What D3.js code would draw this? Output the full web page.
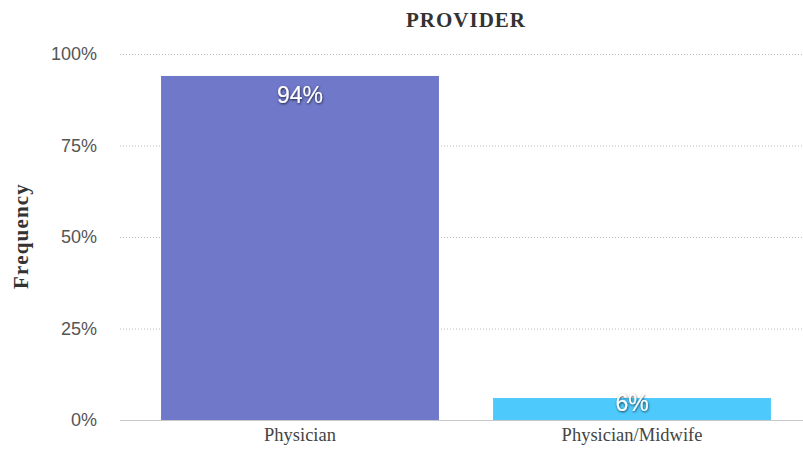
<!DOCTYPE html>
<html>
<head>
<meta charset="utf-8">
<script src="https://cdn.jsdelivr.net/npm/d3@7/dist/d3.min.js"></script>
<style>
  html, body { margin: 0; padding: 0; background: #fff; }
  svg { display: block; }
</style>
</head>
<body>
<svg id="chart" width="803" height="451"></svg>
<script>
// Share of deliveries by provider type
const categories = ["Physician", "Physician/Midwife"];
const values = [94, 6];
const barColors = ["#6f78c9", "#4dc9fc"];
const yTicks = [0, 25, 50, 75, 100];

const svg = d3.select("#chart");
const plot = { left: 120, right: 803, top: 54, bottom: 420 };

const defs = svg.append("defs");
const f = defs.append("filter").attr("id", "lblShadow")
  .attr("x", "-20%").attr("y", "-20%").attr("width", "140%").attr("height", "160%");
f.append("feDropShadow").attr("dx", 0.5).attr("dy", 1).attr("stdDeviation", 0.8)
  .attr("flood-color", "#000").attr("flood-opacity", 0.75);

const y = d3.scaleLinear().domain([0, 100]).range([plot.bottom, plot.top]);
const x = d3.scaleBand().domain(categories).range([134, 798]).paddingInner(0.163).paddingOuter(0.0815);

const serif = "'Liberation Serif', 'Times New Roman', serif";
const sans = "'Liberation Sans', Arial, sans-serif";

// Title
svg.append("text")
  .attr("x", 466).attr("y", 27)
  .attr("text-anchor", "middle")
  .attr("font-family", serif)
  .attr("font-weight", "bold").attr("font-size", 21).attr("fill", "#333")
  .attr("letter-spacing", 1)
  .text("PROVIDER");

// Y axis title
svg.append("text")
  .attr("transform", `translate(28, 236) rotate(-90)`)
  .attr("text-anchor", "middle")
  .attr("font-family", serif)
  .attr("font-weight", "bold").attr("font-size", 21).attr("fill", "#333")
  .attr("letter-spacing", 1.2)
  .text("Frequency");

// Gridlines and tick labels
const yAxis = d3.axisLeft(y).tickValues(yTicks).tickFormat(d => d + "%")
  .tickSize(-(plot.right - plot.left)).tickPadding(23);
const gy = svg.append("g").attr("transform", `translate(${plot.left},0)`).call(yAxis);
gy.select(".domain").remove();
gy.selectAll(".tick line")
  .attr("stroke", d => d === 0 ? "#c8c8c8" : "#bdbdbd")
  .attr("stroke-width", 1)
  .attr("stroke-dasharray", d => d === 0 ? null : "1,2");
gy.selectAll(".tick text")
  .attr("font-family", sans)
  .attr("font-size", 18).attr("fill", "#555");

// Bars
svg.append("g").selectAll("rect").data(categories).join("rect")
  .attr("x", d => x(d))
  .attr("width", x.bandwidth())
  .attr("y", (d, i) => y(values[i]))
  .attr("height", (d, i) => y(0) - y(values[i]))
  .attr("fill", (d, i) => barColors[i]);

// Redraw baseline over bars
svg.append("line")
  .attr("x1", plot.left).attr("x2", plot.right)
  .attr("y1", y(0) + 0.5).attr("y2", y(0) + 0.5)
  .attr("stroke", "#c8c8c8");

// Value labels: inside the top of tall bars, straddling the top of short ones
svg.append("g").selectAll("text").data(categories).join("text")
  .attr("x", d => x(d) + x.bandwidth() / 2)
  .attr("y", (d, i) => {
    const h = y(0) - y(values[i]);
    return y(values[i]) + (h > 40 ? 27 : 13);
  })
  .attr("text-anchor", "middle")
  .attr("font-family", sans)
  .attr("font-size", 23).attr("fill", "#fff")
  .attr("filter", "url(#lblShadow)")
  .text((d, i) => values[i] + "%");

// Category labels
const xAxis = d3.axisBottom(x).tickSize(0).tickPadding(8);
const gx = svg.append("g").attr("transform", `translate(0,${plot.bottom})`).call(xAxis);
gx.select(".domain").remove();
gx.selectAll(".tick text")
  .attr("font-family", serif)
  .attr("font-size", 18.5).attr("fill", "#444");
</script>
</body>
</html>
